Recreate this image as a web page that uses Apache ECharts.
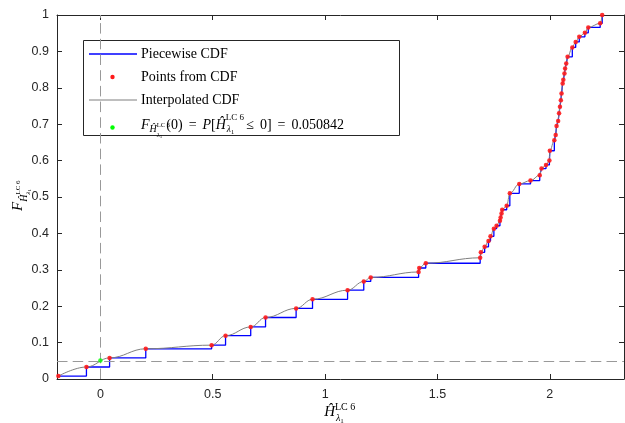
<!DOCTYPE html>
<html>
<head>
<meta charset="utf-8">
<script src="https://cdn.jsdelivr.net/npm/echarts@6/dist/echarts.min.js"></script>
<style>
html,body{margin:0;padding:0;background:#fff}
#chart{width:625px;height:423px}
</style>
</head>
<body>
<div id="chart"></div>
<script>
const cdfX = [-0.187, -0.062, 0.041, 0.202, 0.495, 0.557, 0.669, 0.735, 0.871, 0.944,
    1.100, 1.172, 1.203, 1.416, 1.419, 1.448, 1.690, 1.693, 1.710, 1.727,
    1.736, 1.751, 1.763, 1.778, 1.781, 1.785, 1.788, 1.808, 1.822, 1.864,
    1.914, 1.955, 1.963, 1.983, 1.998, 2.000, 2.020, 2.026, 2.030, 2.037,
    2.041, 2.045, 2.049, 2.052, 2.057, 2.060, 2.065, 2.068, 2.073, 2.079,
    2.100, 2.115, 2.131, 2.156, 2.171, 2.224, 2.233];
const cdfY = [0.008, 0.033, 0.058, 0.083, 0.093, 0.119, 0.143, 0.169, 0.194, 0.219,
    0.244, 0.268, 0.279, 0.294, 0.305, 0.318, 0.333, 0.348, 0.363, 0.379,
    0.392, 0.413, 0.421, 0.435, 0.444, 0.455, 0.465, 0.476, 0.510, 0.536,
    0.545, 0.560, 0.578, 0.588, 0.600, 0.627, 0.656, 0.670, 0.695, 0.709,
    0.730, 0.748, 0.766, 0.784, 0.812, 0.822, 0.839, 0.853, 0.867, 0.885,
    0.911, 0.926, 0.940, 0.951, 0.966, 0.977, 1.000];
// F(0) = P[H <= 0]
const zeroX = [0];
const zeroY = [0.050842];
const xTicks = [0, 0.5, 1, 1.5, 2];
const xRange = [-0.193, 2.33];
const yRange = [0, 1];

const axisColor = '#262626';
const serif = '"Liberation Serif", "Times New Roman", serif';
const sans = '"Liberation Sans", Arial, sans-serif';

const pts = cdfX.map((x, i) => [x, cdfY[i]]);
const zeroPts = zeroX.map((x, i) => [x, zeroY[i]]);

const chart = echarts.init(document.getElementById('chart'), null, {renderer: 'canvas'});

// small helper for rich-text styles (math-like labels)
function tok(size, pad, italic, extra) {
    return Object.assign({
        fontFamily: serif, fontSize: size, lineHeight: size,
        fontStyle: italic ? 'italic' : 'normal', align: 'left',
        color: '#000', verticalAlign: 'top', padding: [pad, 0, 0, 0]
    }, extra || {});
}

const tickLabel = {color: axisColor, fontFamily: sans, fontSize: 12.5};
const boxLine = {show: true, onZero: false, lineStyle: {color: axisColor, width: 1}};

const option = {
    animation: false,
    backgroundColor: '#fff',
    grid: {left: 57, right: 1, top: 15, bottom: 44, containLabel: false, outerBoundsMode: 'none'},
    xAxis: [{
        type: 'value', position: 'bottom', min: xRange[0], max: xRange[1],
        axisLine: boxLine,
        axisTick: {inside: true, length: 5, customValues: xTicks, lineStyle: {color: axisColor}},
        axisLabel: Object.assign({customValues: xTicks, margin: 9}, tickLabel),
        splitLine: {show: false},
        name: '{H|Ĥ}{sup|LC 6}{lam|λ}{one|1}',
        nameLocation: 'middle', nameGap: 21, nameMoveOverlap: false,
        nameTextStyle: {
            rich: {
                H: tok(15, 4.5, true),
                sup: tok(10, 2, false, {width: 0}),
                lam: tok(10, 13, true, {padding: [13, 0, 0, 1]}),
                one: tok(7, 17.5, false, {padding: [17.5, 13, 0, 0]})
            }
        }
    }, {
        type: 'value', position: 'top', min: xRange[0], max: xRange[1],
        axisLine: boxLine,
        axisTick: {inside: true, length: 5, customValues: xTicks, lineStyle: {color: axisColor}},
        axisLabel: {show: false},
        splitLine: {show: false}
    }],
    yAxis: [{
        type: 'value', position: 'left', min: yRange[0], max: yRange[1], interval: 0.1,
        axisLine: boxLine,
        axisTick: {show: true, inside: true, length: 5, lineStyle: {color: axisColor}},
        axisLabel: Object.assign({margin: 8}, tickLabel),
        splitLine: {show: false},
        name: '{F|F}{sH|Ĥ}{sLC|LC 6}{sl|λ}{s1|1}',
        nameLocation: 'middle', nameGap: 35, nameMoveOverlap: false,
        nameTextStyle: {
            rich: {
                F: tok(15, 3.5, true),
                sH: tok(10, 12, true),
                sLC: tok(7, 7.5, false, {width: 0}),
                sl: tok(7, 17.5, true),
                s1: tok(5, 20.5, false, {padding: [20.5, 6, 0, 0]})
            }
        }
    }, {
        type: 'value', position: 'right', min: yRange[0], max: yRange[1], interval: 0.1,
        axisLine: boxLine,
        axisTick: {show: true, inside: true, length: 5, lineStyle: {color: axisColor}},
        axisLabel: {show: false},
        splitLine: {show: false}
    }],
    series: [{
        name: 'Piecewise CDF',
        type: 'line',
        step: 'end',
        data: pts,
        symbol: 'none',
        lineStyle: {color: '#0000ff', width: 1.3},
        z: 2
    }, {
        name: 'Interpolated CDF',
        type: 'line',
        smooth: 0.4,
        smoothMonotone: 'x',
        data: pts,
        symbol: 'none',
        lineStyle: {color: '#7f7f7f', width: 1},
        z: 3
    }, {
        name: 'Points from CDF',
        type: 'scatter',
        data: pts,
        symbolSize: 4.5,
        itemStyle: {color: '#ff1a1a', opacity: 0.9},
        z: 4
    }, {
        name: 'F(0)',
        type: 'scatter',
        data: zeroPts,
        symbolSize: 4.5,
        itemStyle: {color: '#00ff00'},
        z: 5,
        markLine: {
            silent: true,
            symbol: ['none', 'none'],
            label: {show: false},
            lineStyle: {color: '#999999', width: 1, type: [10.5, 5.2]},
            data: [{xAxis: zeroX[0]}, {yAxis: zeroY[0]}]
        }
    }],
    graphic: [{
        type: 'group',
        z: 100,
        children: [{
            type: 'rect',
            shape: {x: 83.5, y: 40.5, width: 316, height: 95},
            style: {fill: '#fff', stroke: axisColor, lineWidth: 1}
        }, {
            type: 'line',
            shape: {x1: 89, y1: 54, x2: 137, y2: 54},
            style: {stroke: '#0000ff', lineWidth: 1.3}
        }, {
            type: 'text', x: 141, y: 54,
            style: {text: 'Piecewise CDF', font: '14px ' + serif, fill: '#000', verticalAlign: 'middle'}
        }, {
            type: 'circle',
            shape: {cx: 112.5, cy: 77, r: 2.2},
            style: {fill: '#ff1a1a'}
        }, {
            type: 'text', x: 141, y: 77,
            style: {text: 'Points from CDF', font: '14px ' + serif, fill: '#000', verticalAlign: 'middle'}
        }, {
            type: 'line',
            shape: {x1: 89, y1: 100, x2: 137, y2: 100},
            style: {stroke: '#7f7f7f', lineWidth: 1}
        }, {
            type: 'text', x: 141, y: 100,
            style: {text: 'Interpolated CDF', font: '14px ' + serif, fill: '#000', verticalAlign: 'middle'}
        }, {
            type: 'circle',
            shape: {cx: 112.5, cy: 127.5, r: 2.2},
            style: {fill: '#00ff00'}
        }, {
            type: 'text', x: 141, y: 110,
            style: {
                text: '{F|F}{sH|Ĥ}{sLC|LC 6}{sl|λ}{s1|1}{t|(0)}{op|=}{P|P}{t|[}{H|Ĥ}{sup|LC 6}{lam|λ}{one|1}{op|≤}{t|0]}{op|=}{t|0.050842}',
                verticalAlign: 'top',
                rich: {
                    F: tok(14, 8.5, true),
                    sH: tok(10, 14.5, true),
                    sLC: tok(6.5, 12, false, {width: 0}),
                    sl: tok(7, 21.5, true),
                    s1: tok(5, 24.5, false, {padding: [24.5, 4, 0, 0]}),
                    t: tok(14, 8.5, false),
                    op: tok(14, 8.5, false, {padding: [8.5, 6, 0, 6]}),
                    P: tok(14, 8.5, true),
                    H: tok(14, 8.5, true),
                    sup: tok(9, 3.5, false, {width: 0}),
                    lam: tok(9.5, 14.5, true, {padding: [14.5, 0, 0, 1]}),
                    one: tok(6.5, 18.5, false, {padding: [18.5, 6, 0, 0]})
                }
            }
        }]
    }]
};

chart.setOption(option);
</script>
</body>
</html>
